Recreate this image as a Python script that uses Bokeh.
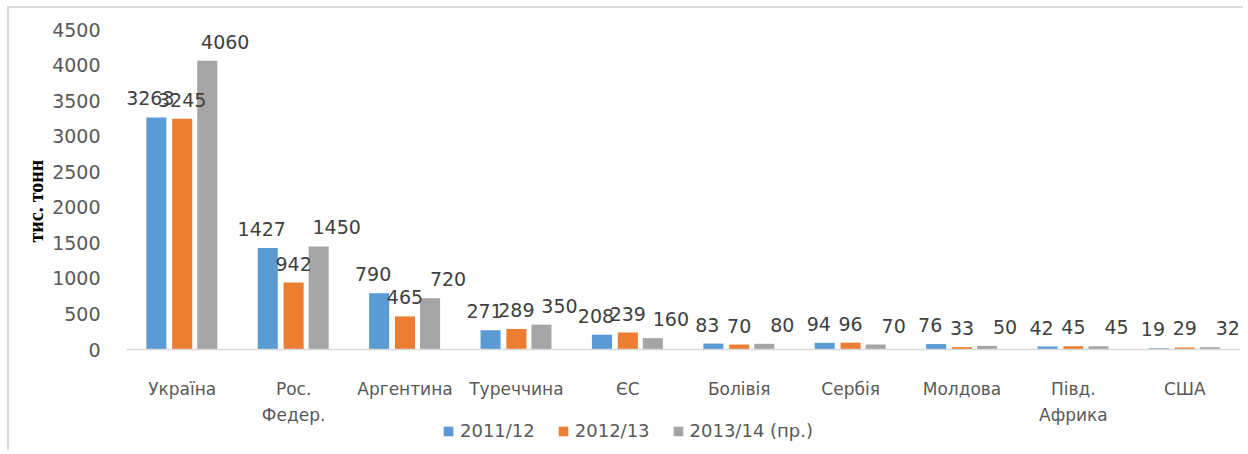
from bokeh.plotting import figure
from bokeh.models import ColumnDataSource, FactorRange, Range1d, Legend, LegendItem, FixedTicker, LabelSet, Span, Title
from bokeh.transform import dodge
from bokeh.core.properties import value
from bokeh.embed import file_html
from bokeh.resources import INLINE

categories = ["Україна", "Рос.\nФедер.", "Аргентина", "Туреччина", "ЄС", "Болівія",
              "Сербія", "Молдова", "Півд.\nАфрика", "США"]
series_names = ["2011/12", "2012/13", "2013/14 (пр.)"]
v2011 = [3263, 1427, 790, 271, 208, 83, 94, 76, 42, 19]
v2012 = [3245, 942, 465, 289, 239, 70, 96, 33, 45, 29]
v2013 = [4060, 1450, 720, 350, 160, 80, 70, 50, 45, 32]
colors = ["#5b9bd5", "#ed7d31", "#a5a5a5"]
y_ticks = [0, 500, 1000, 1500, 2000, 2500, 3000, 3500, 4000, 4500]
y_max = 4500
y_title = "тис. тонн"

line1 = [c.split("\n")[0] for c in categories]
line2 = [c.split("\n")[1] if "\n" in c else "" for c in categories]

src = ColumnDataSource(dict(cat=categories, a=v2011, b=v2012, c=v2013,
                            l1=line1, l2=line2, zero=[0] * len(categories)))

FONT = "DejaVu Sans"

# layout in pixels: value axis spans 320 px; 101 px below zero hold labels and legend
AXIS_PX = 320
BELOW_PX = 101
y_min = -BELOW_PX * y_max / AXIS_PX

p = figure(width=1236, height=444, x_range=FactorRange(*categories, range_padding=0),
           y_range=Range1d(y_min, y_max), output_backend="svg", toolbar_location=None,
           x_axis_location=None,
           min_border_left=117, min_border_right=5, min_border_top=21, min_border_bottom=2)
p.styles = {"border-left": "2px solid #d9d9d9", "border-top": "2px solid #d9d9d9",
            "margin-left": "7px", "margin-top": "6px"}
p.outline_line_color = None
p.xgrid.grid_line_color = None
p.ygrid.grid_line_color = None

# baseline of the category axis
p.add_layout(Span(location=0, dimension="width", line_color="#d9d9d9", line_width=1.5))

offsets = [-0.232, 0.0, 0.225]
label_shift = [-6, 0, 18]
renderers = []
for col, off, colr, sh in zip(["a", "b", "c"], offsets, colors, label_shift):
    r = p.vbar(x=dodge("cat", off, range=p.x_range), top=col, width=0.18, source=src,
               fill_color=colr, line_color=None)
    renderers.append(r)
    lbl = LabelSet(x=dodge("cat", off, range=p.x_range), y=col, text=col, source=src,
                   text_align="center", text_baseline="bottom", y_offset=12, x_offset=sh,
                   text_font=value(FONT), text_font_size="19px", text_color="#404040")
    p.add_layout(lbl)

# category labels (two lines, each centred)
for field, yoff in (("l1", -29), ("l2", -55)):
    p.add_layout(LabelSet(x="cat", y="zero", text=field, source=src, text_align="center",
                          text_baseline="top", y_offset=yoff, text_font=value(FONT),
                          text_font_size="17px", text_color="#595959"))

p.yaxis.ticker = FixedTicker(ticks=y_ticks)
p.yaxis.axis_line_color = None
p.yaxis.major_tick_line_color = None
p.yaxis.minor_tick_line_color = None
p.yaxis.major_label_text_font = FONT
p.yaxis.major_label_text_font_size = "19px"
p.yaxis.major_label_text_color = "#595959"
p.yaxis.major_label_standoff = 20

# value-axis title, placed beside the numeric part of the axis
p.add_layout(Title(text=y_title, align="left", offset=208, text_font="Liberation Serif",
                   text_font_style="bold", text_font_size="20px", text_color="#000000",
                   standoff=6), "left")

legend = Legend(items=[LegendItem(label=n, renderers=[r]) for n, r in zip(series_names, renderers)],
                orientation="horizontal", location=(316, 9),
                label_text_font=FONT, label_text_font_size="18px", label_text_color="#595959",
                glyph_width=12, glyph_height=12, spacing=22, label_standoff=6,
                background_fill_alpha=0, border_line_color=None, padding=2, margin=0)
p.add_layout(legend, "center")

open("out.html", "w").write(file_html(p, INLINE))
